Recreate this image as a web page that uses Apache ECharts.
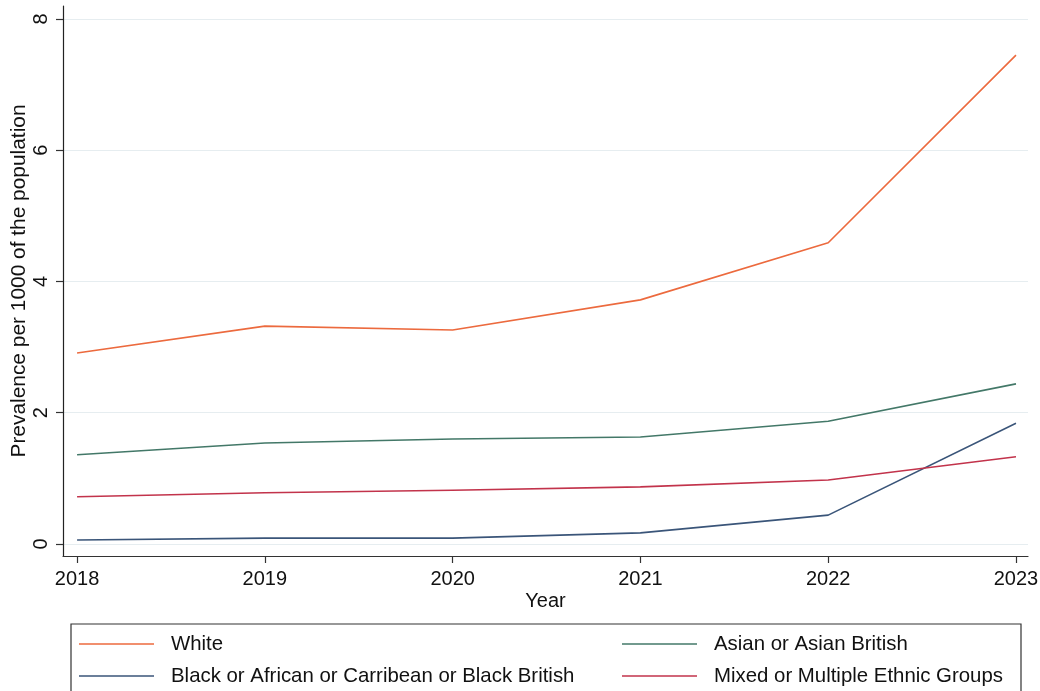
<!DOCTYPE html>
<html>
<head>
<meta charset="utf-8">
<script src="https://cdn.jsdelivr.net/npm/echarts@6/dist/echarts.min.js"></script>
<style>
html,body{margin:0;padding:0;background:#fff;}
#chart{width:1040px;height:691px;}
</style>
</head>
<body>
<div id="chart"></div>
<script>
const years = [2018, 2019, 2020, 2021, 2022, 2023];
const yTicks = [0, 2, 4, 6, 8];
const white = [2.91, 3.32, 3.26, 3.72, 4.59, 7.45];
const asian = [1.36, 1.54, 1.60, 1.63, 1.87, 2.44];
const black = [0.06, 0.09, 0.09, 0.17, 0.44, 1.84];
const mixed = [0.72, 0.78, 0.82, 0.87, 0.975, 1.33];

const names = ['White', 'Black or African or Carribean or Black British', 'Asian or Asian British', 'Mixed or Multiple Ethnic Groups'];
const colors = ['#ec6a3e', '#3a5579', '#437868', '#c2334b'];
const seriesData = [white, black, asian, mixed];

const font = '"Liberation Sans", Arial, Helvetica, sans-serif';
const chart = echarts.init(document.getElementById('chart'), null, {renderer: 'canvas'});

const series = seriesData.map((d, i) => ({
  name: names[i],
  type: 'line',
  data: years.map((y, j) => [y, d[j]]),
  symbol: 'none',
  lineStyle: {color: colors[i], width: 1.6},
  itemStyle: {color: colors[i]},
  z: 3
}));

const legendPos = [[79, 634], [79, 666], [622, 634], [622, 666]];
const legends = names.map((n, i) => ({
  orient: 'horizontal',
  left: legendPos[i][0],
  top: legendPos[i][1],
  padding: 0,
  itemWidth: 75,
  itemHeight: 14,
  icon: 'path://M0,6.3 L75,6.3 L75,7.7 L0,7.7 Z',
  textStyle: {fontFamily: font, fontSize: 20.4, color: '#111', padding: [0, 0, 0, 12]},
  selectedMode: false,
  data: [n]
}));

chart.setOption({
  animation: false,
  backgroundColor: '#fff',
  grid: {left: 63, right: 12, top: 6, bottom: 135, containLabel: false, outerBoundsMode: 'none'},
  xAxis: {
    type: 'value',
    min: 2017.925,
    max: 2023.064,
    name: 'Year',
    nameLocation: 'middle',
    nameGap: 35,
    nameMoveOverlap: false,
    nameTextStyle: {fontFamily: font, fontSize: 20, color: '#111'},
    axisLine: {show: true, onZero: false, lineStyle: {color: '#333', width: 1.2}},
    axisTick: {show: true, length: 7, customValues: years, lineStyle: {color: '#333', width: 1.2}},
    axisLabel: {customValues: years, margin: 13, fontFamily: font, fontSize: 20, color: '#111', formatter: v => String(Math.round(v))},
    splitLine: {show: false}
  },
  yAxis: {
    type: 'value',
    min: -0.183,
    max: 8.198,
    name: 'Prevalence per 1000 of the population',
    nameLocation: 'middle',
    nameGap: 33,
    nameMoveOverlap: false,
    nameRotate: 90,
    nameTextStyle: {fontFamily: font, fontSize: 20.9, color: '#111'},
    axisLine: {show: true, onZero: false, lineStyle: {color: '#222', width: 1.2}},
    axisTick: {show: true, length: 7, customValues: yTicks, lineStyle: {color: '#333', width: 1.2}},
    axisLabel: {customValues: yTicks, rotate: 90, margin: 12, fontFamily: font, fontSize: 20, color: '#111'},
    splitLine: {show: true, lineStyle: {color: '#e6edf0', width: 1.2}}
  },
  legend: legends,
  graphic: [{
    type: 'rect',
    shape: {x: 71, y: 624, width: 950, height: 90},
    style: {fill: 'none', stroke: '#333', lineWidth: 1.2},
    silent: true,
    z: 0
  }],
  series: series
});
</script>
</body>
</html>
